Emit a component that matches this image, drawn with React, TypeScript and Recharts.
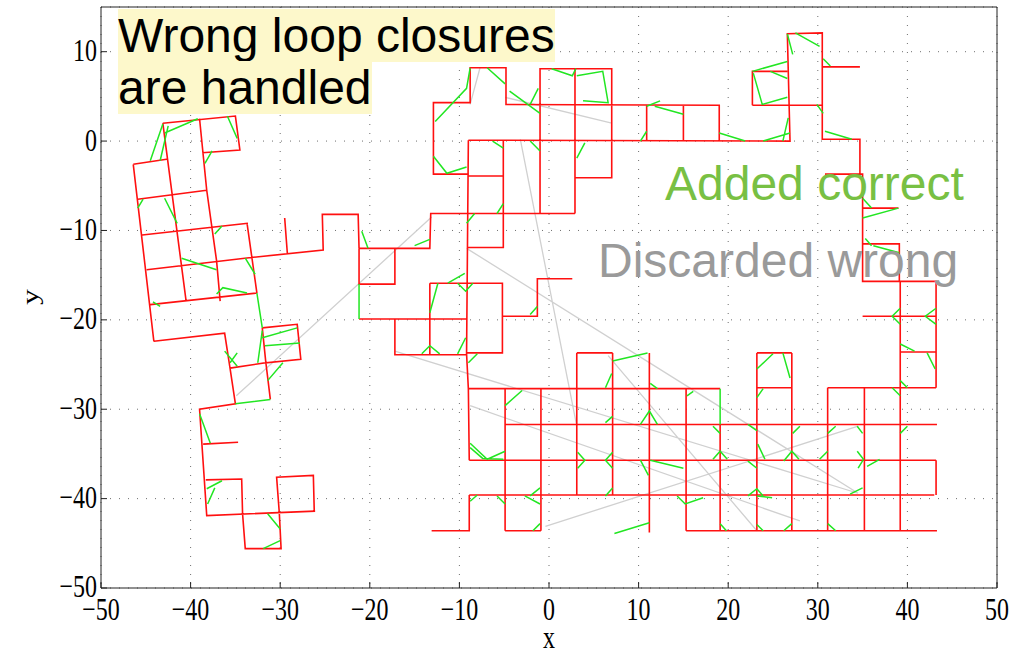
import React from "react";
import { ComposedChart, Line, XAxis, YAxis, CartesianGrid } from "recharts";

type Pt = [number, number];

const xTicks = [-50, -40, -30, -20, -10, 0, 10, 20, 30, 40, 50];
const yTicks = [-50, -40, -30, -20, -10, 0, 10];

// estimated trajectory (red), drawn as polylines in map units
const redLeft: Pt[][] = [
  [[-43.1, 2.0], [-35.0, 2.8], [-34.5, -1.0], [-38.7, -1.3]],
  [[-39.0, 2.5], [-38.2, -5.5], [-37.1, -13.4], [-36.7, -17.9]],
  [[-43.1, 2.0], [-40.5, -17.9]],
  [[-46.4, -2.6], [-42.5, -2.0]],
  [[-45.9, -6.5], [-38.2, -5.5]],
  [[-45.4, -10.5], [-33.6, -9.2]],
  [[-44.9, -14.4], [-33.0, -13.0], [-25.2, -12.2], [-25.3, -8.2], [-21.3, -8.2], [-21.2, -12.0]],
  [[-44.5, -18.3], [-32.6, -17.0]],
  [[-44.1, -22.4], [-36.2, -21.5], [-35.6, -25.4], [-35.0, -29.4], [-39.0, -30.0], [-38.2, -41.9], [-26.1, -41.4]],
  [[-46.4, -2.6], [-44.1, -22.4]],
  [[-33.7, -9.2], [-32.6, -17.0]],
  [[-29.5, -8.6], [-29.2, -12.6]],
  [[-32.0, -20.9], [-28.1, -20.5], [-27.7, -24.4], [-31.6, -24.8], [-32.0, -20.9]],
  [[-35.6, -25.4], [-31.6, -24.8], [-31.1, -28.9]],
  [[-38.6, -33.9], [-34.7, -33.7]],
  [[-38.3, -37.9], [-34.3, -37.8], [-34.2, -41.7], [-33.9, -45.6], [-29.9, -45.6], [-30.1, -41.6], [-30.4, -37.6], [-26.3, -37.4], [-26.2, -41.4]],
];

const redMiddle: Pt[][] = [
  [[-21.2, -12.0], [-13.3, -12.0], [-13.2, -8.1], [2.9, -8.1]],
  [[-17.2, -12.0], [-17.2, -16.0], [-21.2, -16.0], [-21.2, -12.0]],
  [[-21.2, -19.9], [-9.2, -19.9]],
  [[-17.2, -19.9], [-17.2, -23.9], [-9.2, -23.9]],
  [[-13.3, -15.9], [-13.3, -23.9]],
  [[-13.3, -15.9], [-5.2, -15.9], [-5.2, -23.7], [-9.2, -23.7]],
  [[-5.2, -19.6], [-1.3, -19.6], [-1.3, -15.4], [2.6, -15.4]],
  [[-9.0, 0.1], [-9.1, -11.9], [-9.2, -23.8], [-9.0, -27.7], [-8.9, -35.7]],
  [[-9.1, -11.9], [-5.1, -11.9], [-5.1, 0.1]],
  [[-9.0, -3.9], [-5.1, -3.9]],
];

const redTop: Pt[][] = [
  [[-9.0, -3.7], [-12.9, -3.7], [-12.9, 4.3], [-8.8, 4.3], [-8.8, 8.2], [-4.8, 8.2], [-4.8, 4.1], [19.0, 4.0], [19.0, 0.0]],
  [[-9.0, 0.1], [26.9, 0.0], [26.6, 12.0], [30.5, 12.1], [30.5, 0.2], [34.7, 0.2], [34.7, -3.7], [30.8, -3.7]],
  [[22.7, 4.0], [30.5, 4.0]],
  [[26.6, 7.8], [22.7, 7.8], [22.7, 4.0]],
  [[30.5, 8.3], [34.7, 8.3]],
  [[10.9, 4.1], [10.9, 0.0]],
  [[15.0, 4.1], [15.0, 0.0]],
  [[-1.0, -8.1], [-1.0, 8.1], [7.0, 8.1], [7.0, -4.1], [2.9, -4.1]],
  [[2.9, 8.1], [2.9, -8.1]],
];

const redRight: Pt[][] = [
  [[34.7, -3.7], [35.0, -3.7], [35.0, -15.7], [43.2, -15.7], [43.2, -27.6]],
  [[35.0, -7.5], [39.0, -7.5]],
  [[35.0, -11.5], [39.1, -11.5], [39.1, -15.7]],
  [[39.2, -15.7], [39.2, -43.6]],
  [[35.0, -19.6], [43.2, -19.6]],
  [[39.2, -23.6], [43.2, -23.6]],
];

const redBottom: Pt[][] = [
  [[31.1, -27.6], [43.2, -27.6]],
  [[-9.0, -27.7], [19.1, -27.7]],
  [[23.2, -23.7], [27.1, -23.7]],
  [[23.2, -27.6], [27.1, -27.6]],
  [[3.1, -23.7], [7.1, -23.7]],
  [[-4.9, -31.7], [43.3, -31.7]],
  [[-8.9, -35.7], [43.2, -35.7]],
  [[-8.9, -39.6], [43.0, -39.6]],
  [[-13.1, -43.6], [-8.9, -43.6], [-8.9, -39.6]],
  [[-4.9, -43.6], [-0.9, -43.6]],
  [[15.3, -43.6], [43.3, -43.6]],
  [[-4.9, -27.7], [-4.9, -43.6]],
  [[-0.9, -27.7], [-0.9, -43.6]],
  [[3.1, -23.7], [3.1, -39.6]],
  [[7.1, -23.7], [7.1, -39.6]],
  [[11.2, -23.7], [11.2, -43.8]],
  [[15.3, -27.7], [15.3, -43.6]],
  [[19.1, -31.7], [19.1, -43.6]],
  [[23.2, -23.7], [23.2, -43.6]],
  [[27.1, -23.7], [27.1, -43.6]],
  [[31.1, -27.6], [31.1, -43.6]],
  [[35.2, -27.6], [35.2, -43.6]],
  [[43.2, -35.7], [43.2, -39.6]],
];

// accepted loop closures (green)
const greenLeft: Pt[][] = [
  [[-43.1, 1.9], [-44.5, -2.2]],
  [[-42.5, 1.7], [-43.4, -2.2]],
  [[-42.9, 0.9], [-39.2, 2.5]],
  [[-35.9, 2.8], [-34.8, 0.3]],
  [[-37.6, -1.1], [-38.4, -2.5]],
  [[-45.9, -7.5], [-45.3, -6.5]],
  [[-42.9, -6.4], [-41.5, -9.2]],
  [[-37.3, -10.4], [-36.5, -9.5]],
  [[-41.0, -13.1], [-37.1, -14.4]],
  [[-33.9, -13.1], [-32.8, -14.9]],
  [[-37.1, -17.1], [-36.4, -16.4], [-33.7, -17.0]],
  [[-44.2, -18.0], [-43.4, -18.5]],
  [[-36.2, -23.5], [-34.8, -25.2]],
  [[-35.6, -24.8], [-34.8, -23.7]],
  [[-32.6, -17.0], [-32.0, -20.9]],
  [[-32.0, -22.0], [-28.1, -20.9]],
  [[-31.7, -22.9], [-27.8, -22.6]],
  [[-31.4, -26.8], [-29.7, -24.8]],
  [[-32.0, -21.2], [-32.5, -24.8]],
  [[-35.0, -29.4], [-31.1, -28.9]],
  [[-39.0, -30.5], [-37.8, -33.8]],
  [[-38.2, -38.9], [-36.5, -38.0]],
  [[-38.1, -40.6], [-37.3, -38.8]],
  [[-31.4, -41.7], [-30.0, -43.4]],
  [[-31.9, -45.6], [-30.0, -44.7]],
];

const greenMiddle: Pt[][] = [
  [[-20.9, -10.1], [-20.2, -12.0]],
  [[-15.0, -11.7], [-13.3, -11.0]],
  [[-21.2, -16.0], [-21.2, -19.9]],
  [[-12.4, -15.9], [-13.3, -19.2]],
  [[-11.3, -15.9], [-9.4, -14.8]],
  [[-10.2, -15.9], [-9.3, -16.8], [-8.5, -15.9]],
  [[-14.2, -23.8], [-13.3, -22.9], [-12.2, -23.8]],
  [[-10.2, -23.8], [-9.3, -22.0]],
  [[-9.0, -24.8], [-8.0, -23.8]],
  [[-2.1, -19.4], [-1.3, -18.5]],
  [[-4.9, -29.6], [-3.0, -27.9]],
  [[6.3, -27.6], [7.0, -26.0]],
  [[7.1, -24.6], [11.0, -23.7]],
];

const greenTop: Pt[][] = [
  [[-12.7, 2.2], [-9.2, 5.9], [-8.8, 8.2]],
  [[-6.9, 8.2], [-4.9, 6.4]],
  [[-4.4, 5.6], [-1.0, 3.1]],
  [[-2.1, 4.1], [-1.2, 5.9]],
  [[-12.9, -1.7], [-11.4, -3.6], [-9.2, -2.9]],
  [[0.3, 8.1], [2.6, 7.3], [3.0, 8.1]],
  [[3.1, 7.3], [6.0, 7.8], [6.6, 4.3], [3.8, 4.5]],
  [[3.1, -1.9], [4.0, -0.2]],
  [[-2.1, 0.0], [-1.0, -1.1]],
  [[-6.3, 0.0], [-5.1, -0.8]],
  [[-5.1, -7.0], [-5.8, -8.1]],
  [[-9.2, -9.2], [-8.3, -8.1]],
  [[10.9, 3.9], [12.4, 4.5]],
  [[10.2, 0.0], [10.9, 1.1]],
  [[11.8, 3.9], [15.0, 3.0]],
  [[19.0, 0.9], [21.9, 0.0]],
  [[23.9, 0.0], [26.9, 0.9]],
  [[26.1, 0.0], [26.7, 2.6]],
  [[22.7, 7.8], [26.6, 8.9]],
  [[22.8, 7.6], [23.8, 4.1], [26.6, 4.9]],
  [[24.7, 7.8], [26.6, 7.0]],
  [[26.6, 12.0], [27.2, 9.7]],
  [[27.5, 12.1], [30.2, 10.6]],
  [[30.6, 9.2], [31.4, 8.4]],
  [[29.9, 4.1], [30.6, 3.1]],
  [[30.8, 1.1], [33.8, 0.2]],
  [[35.0, -6.4], [36.0, -7.5]],
  [[35.0, -8.6], [39.0, -7.5]],
  [[35.3, -10.9], [36.0, -11.7]],
  [[36.2, -11.7], [39.1, -12.5]],
  [[39.2, -18.7], [38.3, -19.6], [39.2, -20.5]],
  [[43.2, -18.7], [42.0, -19.6], [43.2, -20.5]],
  [[39.2, -22.7], [40.8, -23.5]],
  [[42.2, -23.7], [43.1, -25.5]],
  [[38.3, -27.6], [39.2, -28.5]],
  [[39.2, -26.8], [40.0, -27.6]],
];

const greenBottom: Pt[][] = [
  [[19.1, -27.7], [19.1, -31.7]],
  [[23.2, -25.5], [25.0, -23.8]],
  [[26.1, -23.7], [26.9, -26.5]],
  [[23.2, -28.7], [23.9, -27.7]],
  [[11.3, -27.1], [12.1, -27.7]],
  [[15.4, -28.5], [16.1, -28.0]],
  [[6.3, -31.5], [7.1, -30.8]],
  [[10.2, -31.7], [11.2, -30.2], [12.1, -31.7]],
  [[18.3, -31.9], [19.1, -32.7]],
  [[22.2, -31.7], [23.2, -32.4]],
  [[27.2, -32.7], [28.0, -31.9]],
  [[31.1, -32.7], [32.0, -31.9]],
  [[34.4, -31.9], [35.0, -32.7]],
  [[39.2, -32.7], [40.0, -31.9]],
  [[-8.8, -33.8], [-6.9, -35.6], [-4.9, -34.7]],
  [[-8.8, -34.3], [-7.4, -35.5], [-5.1, -35.6]],
  [[3.2, -34.8], [4.0, -35.7], [3.2, -36.6]],
  [[7.1, -34.8], [6.3, -35.7], [7.1, -36.6]],
  [[10.2, -35.7], [11.1, -37.4]],
  [[11.3, -35.7], [15.0, -36.6]],
  [[18.3, -35.6], [19.1, -34.7], [19.9, -35.6]],
  [[22.2, -35.8], [23.2, -36.6]],
  [[23.3, -33.9], [24.1, -35.6]],
  [[26.2, -35.8], [27.1, -34.7], [27.9, -35.6]],
  [[30.2, -35.6], [31.1, -34.7]],
  [[34.4, -34.7], [35.1, -35.6], [34.5, -36.6]],
  [[35.5, -36.4], [36.9, -35.6]],
  [[-8.8, -40.3], [-8.0, -39.6]],
  [[-5.8, -39.7], [-4.9, -40.6]],
  [[-2.1, -39.7], [-1.0, -38.8]],
  [[-2.7, -39.7], [-1.0, -40.6]],
  [[6.3, -39.7], [7.1, -38.8]],
  [[14.3, -39.7], [15.2, -40.6], [17.2, -39.9]],
  [[22.2, -39.7], [23.2, -38.9], [23.9, -39.7]],
  [[23.2, -39.7], [24.9, -39.9]],
  [[33.6, -39.5], [35.0, -38.8]],
  [[-1.8, -43.6], [-1.0, -42.8]],
  [[7.3, -43.9], [11.2, -42.7]],
  [[19.1, -42.8], [19.8, -43.6]],
  [[23.2, -42.9], [23.9, -43.6]],
  [[26.2, -43.6], [27.1, -42.8]],
  [[31.1, -42.8], [32.0, -43.6]],
];

// rejected loop closures (gray)
const grayDiscarded: Pt[][] = [
  [[-34.9, -28.5], [-13.1, -8.5]],
  [[-9.2, -12.0], [34.5, -39.4]],
  [[-3.2, 0.2], [3.1, -31.9]],
  [[-4.9, 4.9], [7.0, 2.0]],
  [[-17.2, -23.5], [34.5, -39.4]],
  [[-0.4, -43.1], [34.5, -31.9]],
  [[6.6, -24.0], [23.2, -43.6]],
  [[-8.8, -29.6], [28.0, -42.5]],
  [[-7.7, 8.2], [-8.8, 4.1]],
];

function toSeries(paths: Pt[][]) {
  const out: { x: number; y: number | null }[] = [];
  paths.forEach((p) => {
    p.forEach(([x, y]) => out.push({ x, y }));
    out.push({ x: p[p.length - 1][0], y: null });
  });
  return out;
}

const fmt = (v: number) => (v < 0 ? "\u2212" + Math.abs(v) : String(v));
const serif = "'Liberation Serif', 'DejaVu Serif', 'Times New Roman', serif";
const sans = "'Liberation Sans', Arial, 'Helvetica', sans-serif";

const XTick = (props: any) => {
  const { x, y, payload } = props;
  return (
    <g transform={`translate(${x},${y}) scale(1,1.32)`}>
      <text x={0} y={16} textAnchor="middle" fontFamily={serif} fontSize={24} fill="#000">
        {fmt(payload.value)}
      </text>
    </g>
  );
};

const YTick = (props: any) => {
  const { x, y, payload } = props;
  return (
    <g transform={`translate(${x},${y - 1}) scale(1,1.32)`}>
      <text x={0} y={7.9} textAnchor="end" fontFamily={serif} fontSize={24} fill="#000">
        {fmt(payload.value)}
      </text>
    </g>
  );
};

const series = [
  { name: "gray", paths: grayDiscarded, color: "#d0d0d0", width: 1.3 },
  { name: "redLeft", paths: redLeft, color: "#ff1010", width: 1.6 },
  { name: "redMiddle", paths: redMiddle, color: "#ff1010", width: 1.6 },
  { name: "redTop", paths: redTop, color: "#ff1010", width: 1.6 },
  { name: "redRight", paths: redRight, color: "#ff1010", width: 1.6 },
  { name: "redBottom", paths: redBottom, color: "#ff1010", width: 1.6 },
  { name: "greenLeft", paths: greenLeft, color: "#22e622", width: 1.5 },
  { name: "greenMiddle", paths: greenMiddle, color: "#22e622", width: 1.5 },
  { name: "greenTop", paths: greenTop, color: "#22e622", width: 1.5 },
  { name: "greenBottom", paths: greenBottom, color: "#22e622", width: 1.5 },
];

export default function App() {
  return (
    <div style={{ position: "absolute", left: 0, top: 0, width: 1020, height: 655, background: "#fff" }}>
      <ComposedChart width={1020} height={655} margin={{ top: 2, right: 18, bottom: 0, left: 0 }}>
        <CartesianGrid stroke="#6f6f6f" strokeDasharray="1 8" />
        <XAxis
          dataKey="x"
          type="number"
          domain={[-50, 50]}
          ticks={xTicks}
          allowDataOverflow
          height={67}
          tickSize={-6}
          tickMargin={17}
          tick={<XTick />}
          axisLine={{ stroke: "#222" }}
          tickLine={{ stroke: "#222" }}
        />
        <XAxis
          xAxisId="top"
          orientation="top"
          dataKey="x"
          type="number"
          domain={[-50, 50]}
          ticks={xTicks}
          allowDataOverflow
          height={5}
          tickSize={-6}
          tick={false}
          axisLine={{ stroke: "#222" }}
          tickLine={{ stroke: "#222" }}
        />
        <YAxis
          type="number"
          domain={[-50, 15]}
          ticks={yTicks}
          allowDataOverflow
          width={101}
          tickSize={-6}
          tickMargin={10}
          tick={<YTick />}
          axisLine={{ stroke: "#222" }}
          tickLine={{ stroke: "#222" }}
        />
        <YAxis
          yAxisId="right"
          orientation="right"
          type="number"
          domain={[-50, 15]}
          ticks={yTicks}
          allowDataOverflow
          width={5}
          tickSize={-6}
          tick={false}
          axisLine={{ stroke: "#222" }}
          tickLine={{ stroke: "#222" }}
        />
        {series.map((s) => (
          <Line
            key={s.name}
            data={toSeries(s.paths)}
            dataKey="y"
            type="linear"
            stroke={s.color}
            strokeWidth={s.width}
            dot={false}
            activeDot={false}
            connectNulls={false}
            isAnimationActive={false}
            legendType="none"
          />
        ))}
      </ComposedChart>

      <svg width={1020} height={655} style={{ position: "absolute", left: 0, top: 0, pointerEvents: "none" }}>
        <g transform="translate(549,634) scale(1,1.32)">
          <text x={0} y={10.5} textAnchor="middle" fontFamily={serif} fontSize={24} fill="#000">
            x
          </text>
        </g>
        <g transform="translate(38,297) scale(1,1.32) rotate(-90)">
          <text x={0} y={0} textAnchor="middle" fontFamily={serif} fontSize={24} fill="#000">
            y
          </text>
        </g>
      </svg>

      <div
        style={{
          position: "absolute",
          left: 118,
          top: 10,
          fontFamily: sans,
          fontSize: 48,
          lineHeight: "52px",
          color: "#000",
          whiteSpace: "nowrap",
        }}
      >
        <div>
          <span style={{ background: "#fdf8cb" }}>Wrong loop closures</span>
        </div>
        <div>
          <span style={{ background: "#fdf8cb" }}>are handled</span>
        </div>
      </div>
      <div
        style={{
          position: "absolute",
          left: 665,
          top: 158,
          fontFamily: sans,
          fontSize: 48,
          lineHeight: "52px",
          color: "#78c043",
          whiteSpace: "nowrap",
        }}
      >
        Added correct
      </div>
      <div
        style={{
          position: "absolute",
          left: 598,
          top: 235,
          fontFamily: sans,
          fontSize: 48,
          lineHeight: "52px",
          color: "#9a9a9a",
          whiteSpace: "nowrap",
        }}
      >
        Discarded wrong
      </div>
    </div>
  );
}
